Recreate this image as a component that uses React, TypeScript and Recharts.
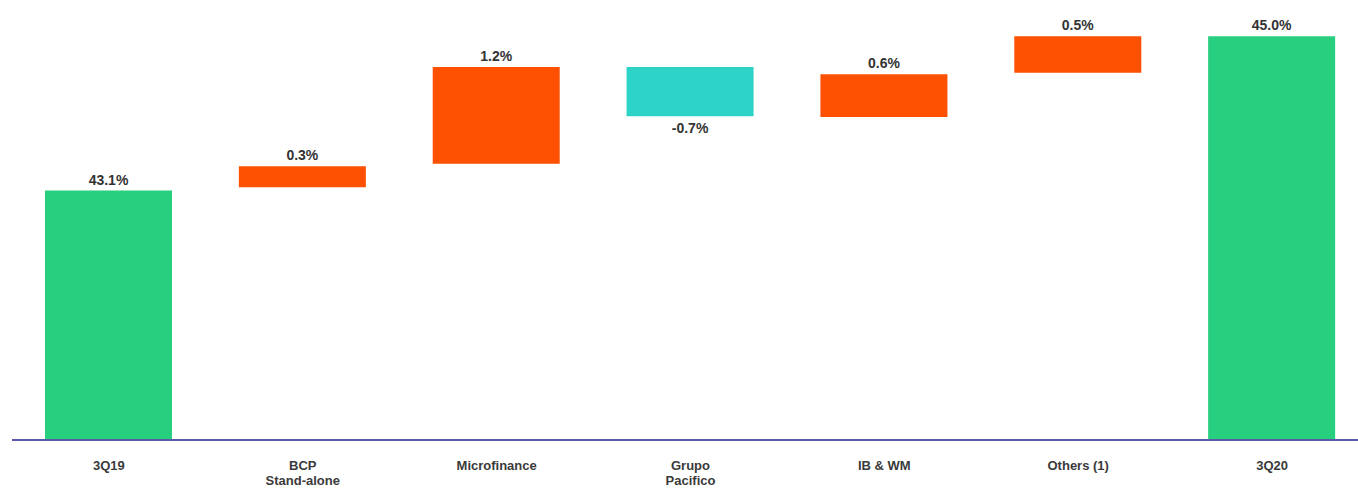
import React from 'react';
import { BarChart, Bar, XAxis, YAxis, Cell } from 'recharts';

const categories: string[][] = [
  ['3Q19'],
  ['BCP', 'Stand-alone'],
  ['Microfinance'],
  ['Grupo', 'Pacifico'],
  ['IB & WM'],
  ['Others (1)'],
  ['3Q20'],
];
const startValues: number[] = [40, 43.13, 43.42, 44.62, 44.0, 44.55, 40];
const endValues: number[] = [43.09, 43.39, 44.62, 44.01, 44.53, 45.0, 45.0];
const valueLabels: string[] = ['43.1%', '0.3%', '1.2%', '-0.7%', '0.6%', '0.5%', '45.0%'];
const kinds: string[] = ['total', 'up', 'up', 'down', 'up', 'up', 'total'];

const COLORS: Record<string, string> = {
  total: '#27CF7E',
  up: '#FD5000',
  down: '#2ED3C7',
};

const data = categories.map((c, i) => ({
  name: c.join('\n'),
  range: [Math.min(startValues[i], endValues[i]), Math.max(startValues[i], endValues[i])],
}));

const FONT = '"Liberation Sans", Arial, sans-serif';

const renderTick = (props: any) => {
  const { x, y, payload } = props;
  const lines = String(payload.value).split('\n');
  return (
    <g>
      {lines.map((l, i) => (
        <text
          key={i}
          x={x}
          y={y + 30 + i * 15}
          textAnchor="middle"
          fontFamily={FONT}
          fontSize={13}
          fontWeight="bold"
          fill="#3a3a3a"
        >
          {l}
        </text>
      ))}
    </g>
  );
};

const renderLabel = (props: any) => {
  const { x, y, width, height, index } = props;
  const top = Math.min(y, y + height);
  const bottom = Math.max(y, y + height);
  const isDown = kinds[index] === 'down';
  return (
    <text
      x={x + width / 2}
      y={isDown ? bottom + 17 : top - 6}
      textAnchor="middle"
      fontFamily={FONT}
      fontSize={14}
      fontWeight="bold"
      fill="#333333"
    >
      {valueLabels[index]}
    </text>
  );
};

export default function App() {
  return (
    <div
      style={{
        position: 'absolute',
        left: 0,
        top: 0,
        width: 1358,
        height: 490,
        overflow: 'hidden',
        background: '#ffffff',
      }}
    >
      <BarChart
        width={1380}
        height={490}
        data={data}
        margin={{ top: 4, right: 11, bottom: 0, left: 12 }}
        barSize={127}
      >
        <YAxis hide domain={[40, 45.4]} allowDataOverflow />
        <XAxis
          dataKey="name"
          interval={0}
          height={50}
          tickLine={false}
          tickSize={0}
          tickMargin={0}
          axisLine={{ stroke: '#5a5aa6', strokeWidth: 2 }}
          tick={renderTick}
        />
        <Bar dataKey="range" isAnimationActive={false} label={renderLabel}>
          {data.map((_, i) => (
            <Cell key={i} fill={COLORS[kinds[i]]} />
          ))}
        </Bar>
      </BarChart>
    </div>
  );
}
